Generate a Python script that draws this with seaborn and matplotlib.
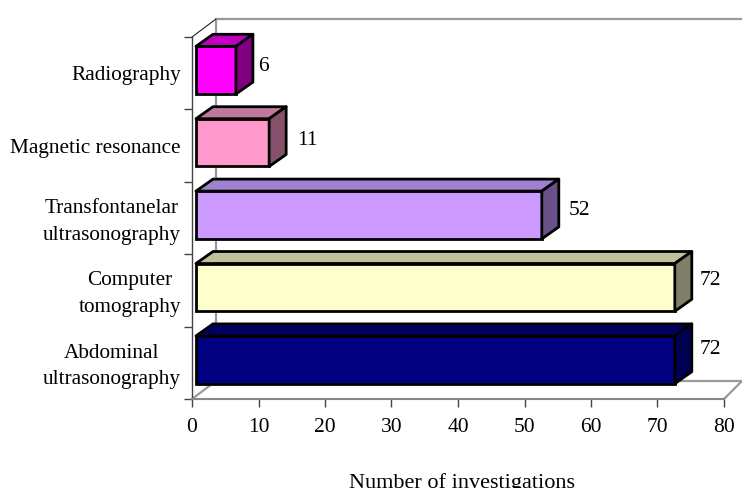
"""Investigations bar chart with a hand-built 3D look"""
import matplotlib
matplotlib.use("Agg")
import matplotlib.pyplot as plt
import pandas as pd
import seaborn as sns
from matplotlib.patches import Polygon
from matplotlib.lines import Line2D
from matplotlib.transforms import ScaledTranslation

categories = [
    "Radiography",
    "Magnetic resonance",
    "Transfontanelar\nultrasonography",
    "Computer\ntomography",
    "Abdominal\nultrasonography",
]
values = [6, 11, 52, 72, 72]
x_ticks = [0, 10, 20, 30, 40, 50, 60, 70, 80]

front_colors = ["#FF00FF", "#FF99CC", "#CC99FF", "#FFFFCC", "#000080"]
top_colors = ["#C000C0", "#C0789C", "#A080D0", "#C0C09A", "#000060"]
side_colors = ["#800080", "#85506A", "#6A5088", "#80806A", "#000050"]

# label tweaks in pixels (right of bar end, up from bar centre)
label_dx = [26, 32, 31, 29, 29]
label_dy = [8, 6, 8, 11, 14]

W, H = 742, 489
LEFT, RIGHT, TOP, BOTTOM = 192, 724, 38, 400
DEPTH_X, DEPTH_Y = 17, 12  # bar depth
WALL_X, WALL_Y = 24, 18    # wall offset
EDGE = 2.0

sns.set_theme(style="white")
plt.rcParams["font.family"] = ["Liberation Serif", "DejaVu Serif"]

df = pd.DataFrame({"category": categories, "value": values})

fig = plt.figure(figsize=(W / 100, H / 100), dpi=100)
ax = fig.add_axes([LEFT / W, 1 - BOTTOM / H, (RIGHT - LEFT) / W, (BOTTOM - TOP) / H])

sns.barplot(
    data=df,
    x="value",
    y="category",
    hue="category",
    palette=front_colors,
    saturation=1,
    width=0.66,
    edgecolor="black",
    linewidth=EDGE,
    legend=False,
    ax=ax,
)
ax.set_xlim(0, 80)
ax.set_ylim(4.5, -0.5)
ax.set_xticks(x_ticks)
ax.set_ylabel("")
# the reference cuts the descenders of this label at the image edge too
ax.set_xlabel("Number of investigations", fontsize=16, color="black", labelpad=26, x=0.5075)
ax.tick_params(axis="x", length=6, width=1, color="#444444", labelcolor="black", labelsize=15.5, pad=7, bottom=True)
ax.tick_params(axis="y", which="major", length=0, labelcolor="black", labelsize=15.3, pad=8)
ax.set_yticks([y - 0.5 for y in range(6)], minor=True)
ax.tick_params(axis="y", which="minor", length=6, width=1, color="#444444", left=True)
for lab in ax.get_yticklabels():
    lab.set_multialignment("center")
    lab.set_linespacing(1.55)
    lift_px = 3.5 if "\n" in lab.get_text() else 1
    lab.set_transform(lab.get_transform() + ScaledTranslation(0, lift_px / 100, fig.dpi_scale_trans))
sns.despine(ax=ax)
ax.spines["left"].set_color("#444444")
ax.spines["bottom"].set_color("#888888")
ax.spines["left"].set_linewidth(1)
ax.spines["bottom"].set_linewidth(1.5)

# pixel helpers, y grows upward on screen
px_x = 80 / (RIGHT - LEFT)
px_y = 5 / (BOTTOM - TOP)
x_end = 80 + (W - RIGHT) * px_x

# back wall and floor
wall = dict(color="#999999", lw=1.6, clip_on=False, zorder=1)
ax.add_line(Line2D([WALL_X * px_x, x_end], [-0.5 - WALL_Y * px_y] * 2, **wall))
ax.add_line(Line2D([WALL_X * px_x] * 2, [-0.5 - WALL_Y * px_y, 4.5 - WALL_Y * px_y], **wall))
ax.add_line(Line2D([0, WALL_X * px_x], [4.5, 4.5 - WALL_Y * px_y], **wall))
ax.add_line(Line2D([72, x_end], [4.5 - WALL_Y * px_y] * 2, **wall))
ax.add_line(Line2D([80, x_end], [4.5, 4.5 - WALL_Y * px_y], **wall))
ax.add_line(Line2D([0, WALL_X * px_x], [-0.5, -0.5 - WALL_Y * px_y], color="#222222", lw=0.8, clip_on=False, zorder=1))

# bars sit slightly off the axis corner
shift = ScaledTranslation(4 / 100, 3 / 100, fig.dpi_scale_trans)
bar_trans = ax.transData + shift
for i, bar in enumerate(ax.patches[: len(values)]):
    bar.set_transform(bar_trans)
    bar.set_zorder(3)
    bar.set_clip_on(False)
    x1 = bar.get_x() + bar.get_width()
    y0 = bar.get_y()
    y1 = y0 + bar.get_height()
    dx = DEPTH_X * px_x
    dy = DEPTH_Y * px_y
    top = Polygon([(0, y0), (x1, y0), (x1 + dx, y0 - dy), (dx, y0 - dy)], closed=True,
                  facecolor=top_colors[i], edgecolor="black", lw=EDGE, joinstyle="round",
                  transform=bar_trans, clip_on=False, zorder=3)
    side = Polygon([(x1, y0), (x1 + dx, y0 - dy), (x1 + dx, y1 - dy), (x1, y1)], closed=True,
                   facecolor=side_colors[i], edgecolor="black", lw=EDGE, joinstyle="round",
                   transform=bar_trans, clip_on=False, zorder=3)
    ax.add_patch(top)
    ax.add_patch(side)
    ax.text(values[i] + label_dx[i] * px_x, i - label_dy[i] * px_y, str(values[i]),
            fontsize=15.5, va="center", ha="left", color="black", clip_on=False, zorder=4)

fig.savefig("out.png", dpi=100)
